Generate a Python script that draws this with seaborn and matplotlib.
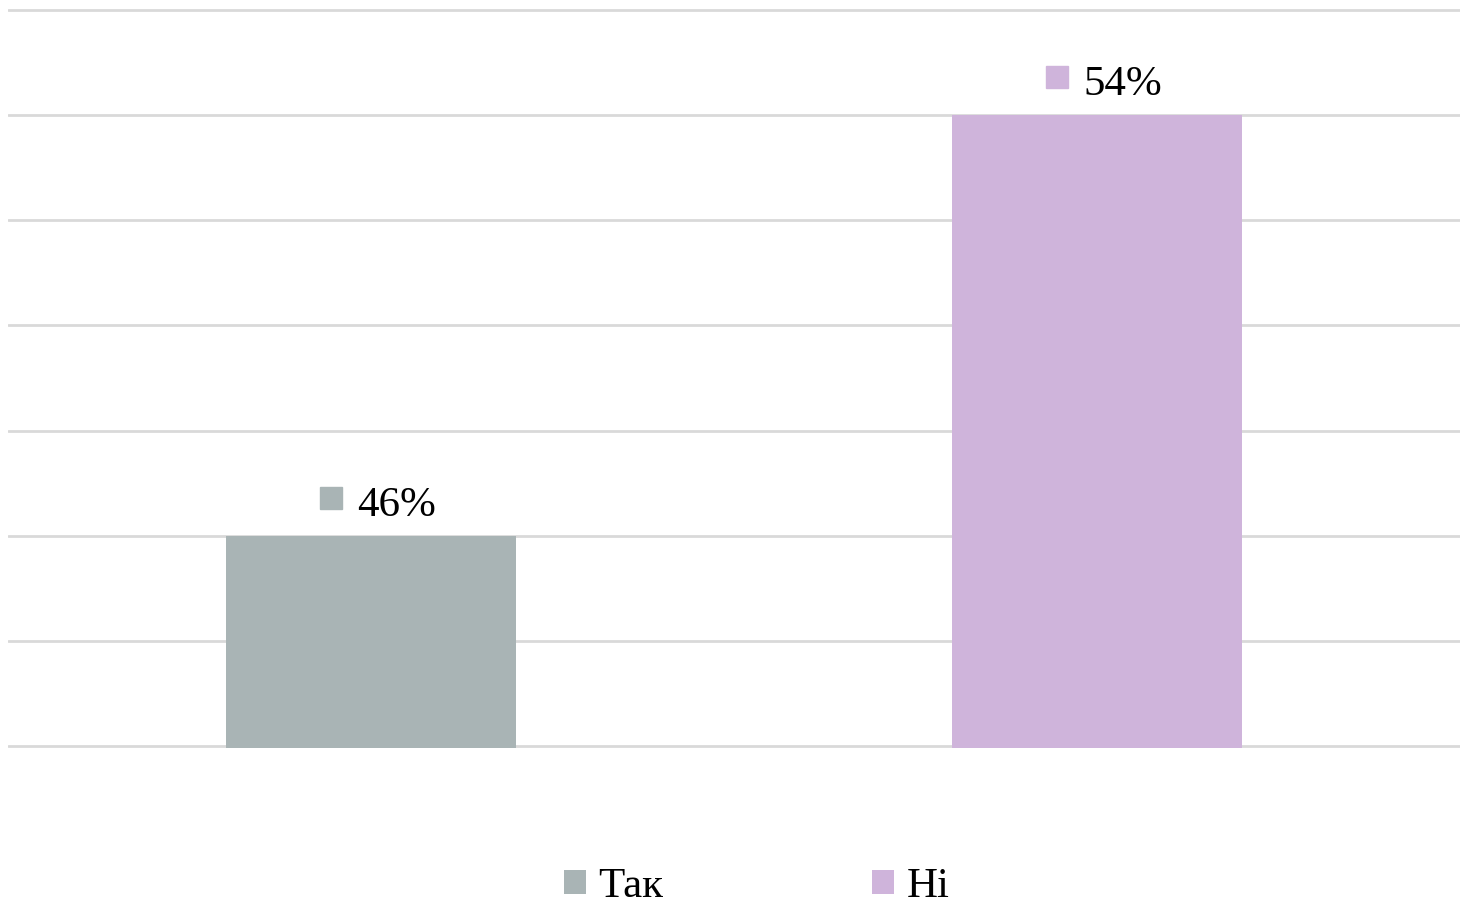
import matplotlib
matplotlib.use("Agg")
import matplotlib.pyplot as plt
import matplotlib.transforms as mtransforms
from matplotlib.patches import Patch
import seaborn as sns

categories = ["Так", "Ні"]
values = [46, 54]
colors = ["#A9B4B5", "#CFB4DB"]

sns.set_theme(style="white")
plt.rcParams["font.family"] = ["Liberation Serif", "DejaVu Serif"]

fig = plt.figure(figsize=(14.73, 9.07), dpi=100)
ax = fig.add_axes([8 / 1473, (907 - 748) / 907, (1460 - 8) / 1473, (748 - 8) / 907])

sns.barplot(x=categories, y=values, hue=categories, palette=colors,
            width=0.4, legend=False, ax=ax, zorder=2, saturation=1, linewidth=0)

ax.set_ylim(41.96, 56.04)
ax.set_yticks(range(42, 57, 2))
ax.yaxis.grid(True, color="#D9D9D9", linewidth=2, zorder=0)
ax.set_axisbelow(True)
ax.set_xticks([])
ax.set_yticklabels([])
ax.tick_params(length=0)
ax.set_xlabel("")
ax.set_ylabel("")
for s in ax.spines.values():
    s.set_visible(False)

# подписи данных: квадрат + значение
for i, (v, c) in enumerate(zip(values, colors)):
    mark_tr = mtransforms.offset_copy(ax.transData, fig=fig, x=-40, y=38, units="dots")
    ax.plot([i], [v], marker="s", markersize=15.5, color=c, transform=mark_tr,
            clip_on=False, linestyle="none")
    ax.annotate(f"{v}%", xy=(i, v), xytext=(-14 * 0.72, 20 * 0.72),
                textcoords="offset points", ha="left", va="baseline",
                fontsize=31, color="black")
ax.set_xlim(-0.5, 1.5)

handles = [Patch(facecolor=c, edgecolor="none", label=l) for l, c in zip(categories, colors)]
fig.legend(handles=handles, loc="center", bbox_to_anchor=(757 / 1473, 1 - 887 / 907),
           ncol=2, frameon=False, fontsize=31, handlelength=0.5, handleheight=0.5,
           handletextpad=0.3, columnspacing=4.85, labelcolor="black",
           borderpad=0.1)

fig.savefig("out.png", dpi=100)
